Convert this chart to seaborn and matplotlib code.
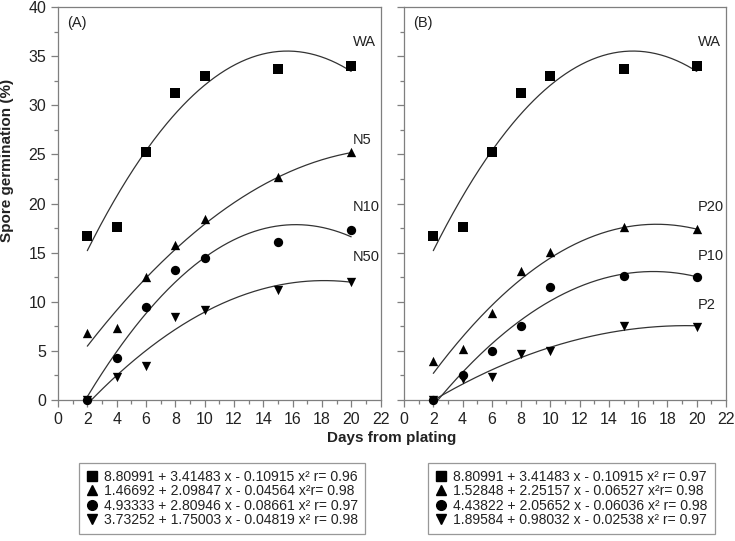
import numpy as np
import pandas as pd
import matplotlib
matplotlib.use("Agg")
from matplotlib import pyplot as plt
from matplotlib.lines import Line2D
import seaborn as sns

sns.set_style("ticks")
plt.rcParams['font.family'] = ['Liberation Sans', 'DejaVu Sans']

# data
days = [2, 4, 6, 8, 10, 15, 20]

# panel A
wa = [16.7, 17.6, 25.2, 31.2, 33.0, 33.7, 34.0]
n5 = [6.8, 7.3, 12.5, 15.8, 18.4, 22.7, 25.2]
n10 = [0.0, 4.3, 9.5, 13.2, 14.5, 16.1, 17.3]
n50 = [0.0, 2.3, 3.5, 8.4, 9.2, 11.2, 12.0]

# panel B
p20 = [4.0, 5.2, 8.9, 13.1, 15.1, 17.6, 17.4]
p10 = [0.0, 2.5, 5.0, 7.5, 11.5, 12.6, 12.5]
p2 = [0.0, 2.1, 2.3, 4.7, 5.0, 7.5, 7.4]

names_a = ['WA', 'N5', 'N10', 'N50']
names_b = ['WA', 'P20', 'P10', 'P2']

# quadratic fits (intercept, b1, b2)
coef_a = [(8.80991, 3.41483, -0.10915), (1.46692, 2.09847, -0.04564),
          (-4.93333, 2.80946, -0.08661), (-3.73252, 1.75003, -0.04819)]
coef_b = [(8.80991, 3.41483, -0.10915), (-1.52848, 2.25157, -0.06527),
          (-4.43822, 2.05652, -0.06036), (-1.89584, 0.98032, -0.02538)]

legend_a = ['8.80991 + 3.41483 x - 0.10915 x² r= 0.96',
            '1.46692 + 2.09847 x - 0.04564 x²r= 0.98',
            '4.93333 + 2.80946 x - 0.08661 x² r= 0.97',
            '3.73252 + 1.75003 x - 0.04819 x² r= 0.98']
legend_b = ['8.80991 + 3.41483 x - 0.10915 x² r= 0.97',
            '1.52848 + 2.25157 x - 0.06527 x²r= 0.98',
            '4.43822 + 2.05652 x - 0.06036 x² r= 0.98',
            '1.89584 + 0.98032 x - 0.02538 x² r= 0.97']

label_y_a = [36.4, 26.5, 19.6, 14.6]
label_y_b = [36.4, 19.6, 14.7, 9.7]

markers = ['s', '^', 'o', 'v']
grey = '#7f7f7f'
ink = '#222222'

fig = plt.figure(figsize=(7.35, 5.41), dpi=100)
axA = fig.add_axes([0.0789, 0.2606, 0.4388, 0.7264])
axB = fig.add_axes([0.5497, 0.2606, 0.4381, 0.7264])


def draw_panel(ax, series, names, coefs, label_y, tag, legtext, legbox):
    xs = np.linspace(2, 20, 200)
    for vals, name, (c0, c1, c2), mk, ly in zip(series, names, coefs, markers, label_y):
        fit = pd.DataFrame({'x': xs, 'y': c0 + c1 * xs + c2 * xs ** 2})
        sns.lineplot(data=fit, x='x', y='y', ax=ax, color='#333333', lw=0.9)
        pts = pd.DataFrame({'x': days, 'y': vals})
        sns.scatterplot(data=pts, x='x', y='y', ax=ax, marker=mk, color='black',
                        s=45, edgecolor='black', linewidth=0, zorder=5, clip_on=False)
        ax.text(20.1, ly, name, fontsize=10.5, color=ink, va='center')
    ax.text(0.6, 38.4, tag, fontsize=10.5, color=ink, va='center')
    ax.set_xlim(0, 22)
    ax.set_ylim(0, 40)
    ax.set_xticks(range(0, 23, 2))
    ax.set_xticks(range(1, 22, 2), minor=True)
    ax.set_yticks(range(0, 41, 5))
    ax.set_yticks(np.arange(2.5, 40, 5), minor=True)
    ax.set_xlabel('')
    ax.set_ylabel('')
    for sp in ax.spines.values():
        sp.set_color(grey)
        sp.set_linewidth(0.9)
        sp.set_visible(True)
    ax.tick_params(which='major', length=5, color=grey, labelsize=11.5,
                   labelcolor=ink, width=0.9)
    ax.tick_params(which='minor', length=3, color=grey, width=0.9)
    handles = [Line2D([], [], marker=m, ls='none', color='black', markersize=7)
               for m in markers]
    leg = ax.legend(handles, legtext, loc='upper left', bbox_to_anchor=legbox,
                    bbox_transform=fig.transFigure, frameon=True, fancybox=False,
                    fontsize=10.1, handlelength=0.8, handletextpad=0.5,
                    labelspacing=0.02, borderpad=0.5, borderaxespad=0)
    leg.get_frame().set_edgecolor(grey)
    leg.get_frame().set_linewidth(0.9)
    for t in leg.get_texts():
        t.set_color(ink)


draw_panel(axA, [wa, n5, n10, n50], names_a, coef_a, label_y_a, '(A)',
           legend_a, (79 / 735, 1 - 463 / 541))
draw_panel(axB, [wa, p20, p10, p2], names_b, coef_b, label_y_b, '(B)',
           legend_b, (428 / 735, 1 - 463 / 541))
axB.set_yticklabels([])

axA.set_ylabel('Spore germination (%)', fontsize=11, fontweight='bold',
               color=ink)
axA.yaxis.set_label_coords(-44 / 322.5, 0.61)
fig.text(392 / 735, 1 - 438 / 541, 'Days from plating', fontsize=11,
         fontweight='bold', color=ink, ha='center', va='center')

fig.savefig('out.png', dpi=100)
